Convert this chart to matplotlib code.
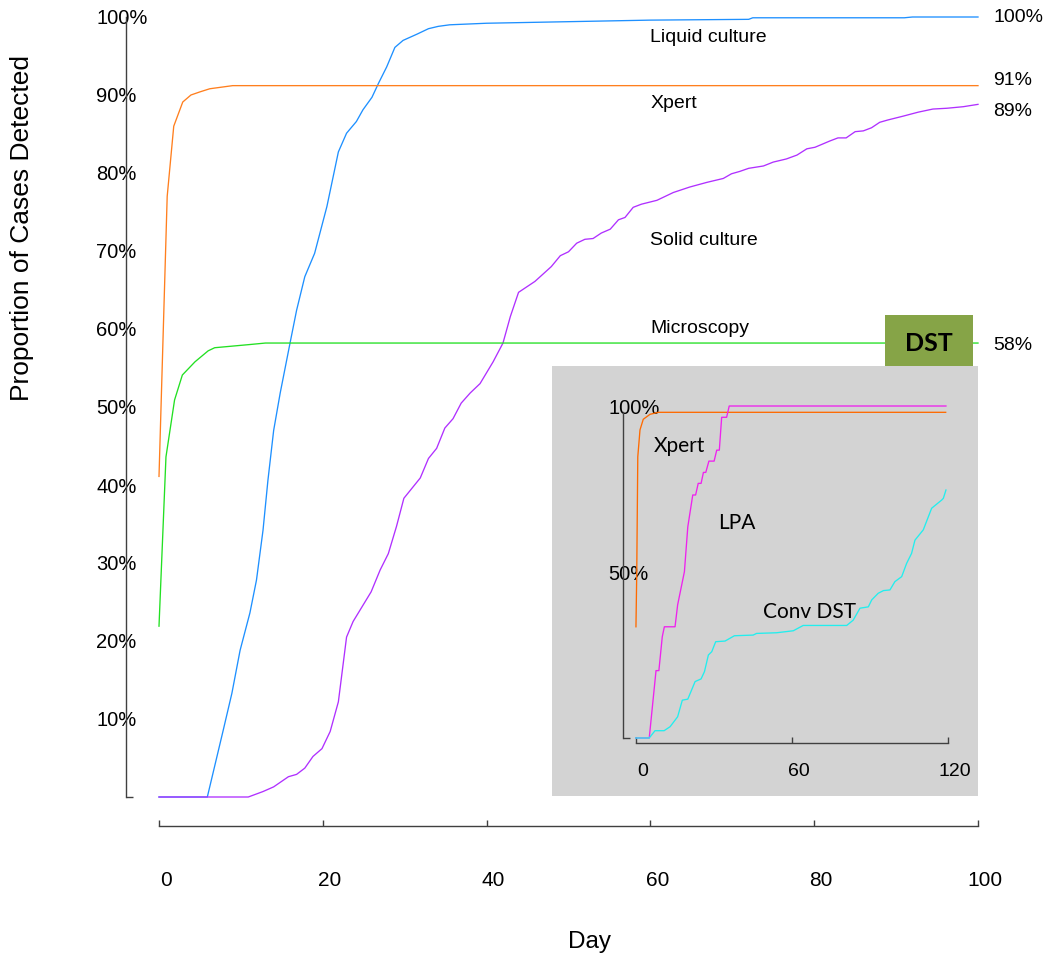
import matplotlib.pyplot as plt
import matplotlib.transforms as mtransforms
from matplotlib import font_manager
from matplotlib.patches import Rectangle

plt.rcParams['font.family'] = ['Liberation Sans', 'DejaVu Sans']
installed = {f.name for f in font_manager.fontManager.ttflist}
narrow = 'Liberation Sans Narrow' if 'Liberation Sans Narrow' in installed else 'Liberation Sans'
calib = 'Lato' if 'Lato' in installed else 'DejaVu Sans'

# main chart: (day, percent detected)
liquid_culture = [(0, 0), (5.9, 0), (7.85, 8.6), (8.9, 13.3), (9.9, 18.8), (11.1, 23.6), (11.9, 27.8),
                  (12.7, 34.2), (13.3, 40.6), (14, 47), (14.8, 51.8), (16, 58.2), (16.8, 62.4),
                  (17.8, 66.7), (19, 69.7), (20.5, 75.7), (21.9, 82.7), (22.9, 85.1), (24.1, 86.6),
                  (24.9, 88.1), (26, 89.7), (26.8, 91.5), (27.8, 93.6), (28.8, 96.1), (29.8, 97.0),
                  (31.5, 97.8), (32.9, 98.5), (34.1, 98.8), (35.5, 99.0), (40, 99.2), (50, 99.4),
                  (60, 99.6), (72, 99.7), (72.5, 99.9), (91, 99.9), (92, 100), (100, 100)]
xpert = [(0, 41.1), (1, 77), (1.8, 86), (2.9, 89.1), (3.9, 90), (5, 90.4), (6.2, 90.8),
         (9, 91.2), (100, 91.2)]
solid_culture = [(0, 0), (10.9, 0), (12.7, 0.7), (14, 1.3), (15.8, 2.6), (16.8, 2.9), (17.8, 3.7),
                 (18.8, 5.2), (19.9, 6.2), (20.9, 8.4), (21.9, 12.2), (22.9, 20.5), (23.7, 22.5),
                 (24.8, 24.4), (25.9, 26.3), (27, 29.1), (28, 31.2), (29, 34.7), (29.9, 38.3),
                 (30.9, 39.6), (31.9, 40.9), (32.9, 43.4), (33.9, 44.7), (34.9, 47.3), (35.9, 48.5),
                 (36.9, 50.5), (38, 51.8), (39.2, 53.0), (40.8, 55.8), (42, 58.2), (42.9, 61.6),
                 (43.9, 64.7), (45.9, 66.1), (47.9, 68.0), (49, 69.4), (50, 69.9), (51, 71.0),
                 (52, 71.5), (53, 71.6), (54, 72.3), (55.1, 72.8), (56.1, 74.0), (56.9, 74.3),
                 (57.9, 75.6), (58.9, 76.0), (60.8, 76.5), (62.8, 77.5), (64.8, 78.2), (66.9, 78.8),
                 (68.9, 79.3), (69.9, 79.9), (70.9, 80.2), (72, 80.6), (73.8, 80.9), (75, 81.4),
                 (76.6, 81.8), (77.9, 82.3), (79.1, 83.1), (80.1, 83.3), (81.9, 84.1), (82.9, 84.5),
                 (83.9, 84.5), (85, 85.3), (86, 85.4), (87, 85.8), (88, 86.5), (89, 86.8),
                 (90.9, 87.3), (92.7, 87.8), (94.5, 88.2), (96.2, 88.3), (98.2, 88.5), (100, 88.8)]
microscopy = [(0, 21.9), (0.85, 43.6), (1.9, 50.9), (2.85, 54.1), (4.4, 55.8), (6, 57.2),
              (6.8, 57.6), (11, 58.0), (13, 58.2), (100, 58.2)]

main_xticks = [0, 20, 40, 60, 80, 100]
main_yticks = [10, 20, 30, 40, 50, 60, 70, 80, 90, 100]
end_labels = [('100%', 100), ('91%', 91.9), ('89%', 87.9), ('58%', 57.9)]

# inset (DST): (day, percent)
inset_xpert = [(0.1, 33.5), (0.4, 49.6), (0.8, 84.7), (1.65, 92.8), (2.9, 96.0), (5.5, 97.5),
               (8.7, 98.1), (119, 98.1)]
lpa = [(0, 0), (5.2, 0), (7.8, 20.3), (8.9, 20.3), (10.2, 30.5), (11, 33.5), (15.1, 33.5),
       (16.1, 40.1), (18.7, 50.1), (20, 63.6), (21.9, 73.2), (23, 73.2), (24, 76.7), (25.1, 76.7),
       (26, 80.0), (26.9, 80.0), (28.1, 83.4), (30.1, 83.4), (31.1, 86.7), (32.1, 86.7),
       (33, 96.6), (34.9, 96.6), (35.9, 100), (119.1, 100)]
conv_dst = [(0, 0), (5.2, 0), (7.4, 2.2), (10.9, 2.2), (13.2, 3.4), (16.1, 6.4), (17.9, 11.4),
            (20, 11.7), (22.8, 17.0), (25.1, 17.8), (26.4, 20.0), (27.9, 25.0), (29.2, 26.0),
            (30.7, 29.0), (34.3, 29.2), (37.9, 30.8), (45.1, 31.0), (46.4, 31.5), (54.1, 31.7),
            (60.5, 32.3), (64.3, 33.9), (81, 33.9), (83.5, 35.5), (86.1, 39.1), (89.3, 39.5),
            (90.6, 41.6), (93.1, 43.6), (95.1, 44.4), (97.6, 44.6), (99.5, 47.1), (102.1, 48.6),
            (104, 52.6), (105.9, 55.6), (107.2, 59.6), (110.4, 62.7), (113.6, 69.2),
            (117.5, 71.7), (118.1, 72.2), (119.1, 74.7)]
inset_xticks = [0, 60, 120]
inset_yticks = [50, 100]

W, H = 1045, 958
fig = plt.figure(figsize=(W / 100, H / 100), dpi=100)


def px_box(x0, y0, x1, y1):
    return [x0 / W, 1 - y1 / H, (x1 - x0) / W, (y1 - y0) / H]


axis_col = '#404040'

# ---- main axes
ax = fig.add_axes(px_box(118.05, 1.4, 986.19, 832.1))
ax.set_xlim(-5, 101)
ax.set_ylim(-4.5, 102)
ax.set_facecolor('none')

for data, col in [(liquid_culture, '#1E90FF'), (xpert, '#FF7F1E'),
                  (solid_culture, '#B030FF'), (microscopy, '#22E022')]:
    xs, ys = zip(*data)
    ax.plot(xs, ys, color=col, lw=0.95, zorder=2)

for sp in ['top', 'right']:
    ax.spines[sp].set_visible(False)
ax.spines['left'].set_position(('data', -4))
ax.spines['left'].set_bounds(0, 100)
ax.spines['bottom'].set_position(('data', -3.78))
ax.spines['bottom'].set_bounds(0, 100)
for sp in ['left', 'bottom']:
    ax.spines[sp].set_color(axis_col)
    ax.spines[sp].set_linewidth(1)

ax.set_xticks(main_xticks)
ax.set_xticklabels([str(v) for v in main_xticks], family=[narrow, 'DejaVu Sans'])
ax.tick_params(axis='x', direction='in', length=4, width=1, color=axis_col,
               labelsize=15, pad=32)
shift = mtransforms.ScaledTranslation(0.07, 0, fig.dpi_scale_trans)
for lbl in ax.get_xticklabels():
    lbl.set_transform(lbl.get_transform() + shift)

ax.set_yticks(main_yticks)
ax.set_yticklabels([f'{v}%' for v in main_yticks])
ax.tick_params(axis='y', which='major', length=0, labelsize=14.5, pad=21.6)
for lbl in ax.get_yticklabels():
    lbl.set_horizontalalignment('left')
ax.set_yticks([0], minor=True)
ax.tick_params(axis='y', which='minor', direction='in', length=5, width=1, color=axis_col)

for txt, y in [('Liquid culture', 97.4), ('Xpert', 88.9), ('Solid culture', 71.3),
               ('Microscopy', 60.1)]:
    ax.text(60, y, txt, fontsize=14, va='center', ha='left')
for txt, y in end_labels:
    ax.text(101.9, y, txt, fontsize=14, va='center', ha='left', clip_on=False)

ax.add_patch(Rectangle((88.6, 55.1), 10.8, 6.7, facecolor='#86A447', edgecolor='none', zorder=4))
ax.text(94.0, 58.1, 'DST', fontsize=18, fontweight='bold', family=[calib, 'DejaVu Sans'],
        ha='center', va='center', zorder=5)

fig.text(22 / W, 1 - 228 / H, 'Proportion of Cases Detected', rotation=90, fontsize=19,
         ha='center', va='center')
fig.text(590 / W, 1 - 942 / H, 'Day', fontsize=17.5, ha='center', va='center')

# ---- inset
ax2 = fig.add_axes(px_box(552, 366, 978, 796))
ax2.set_facecolor('#D3D3D3')
ax2.set_xlim(-32.13, 131.4)
ax2.set_ylim(-17.47, 112.05)
for data, col in [(inset_xpert, '#FF6A00'), (lpa, '#EE22EE'), (conv_dst, '#22EEEE')]:
    xs, ys = zip(*data)
    ax2.plot(xs, ys, color=col, lw=0.95)

for sp in ['top', 'right']:
    ax2.spines[sp].set_visible(False)
ax2.spines['left'].set_position(('data', -4.76))
ax2.spines['left'].set_bounds(0, 98.3)
ax2.spines['bottom'].set_position(('data', -1.6))
ax2.spines['bottom'].set_bounds(0, 120)
for sp in ['left', 'bottom']:
    ax2.spines[sp].set_color(axis_col)
    ax2.spines[sp].set_linewidth(1)

ax2.set_xticks(inset_xticks)
ax2.set_xticklabels([str(v) for v in inset_xticks])
ax2.tick_params(axis='x', direction='in', length=4, width=1, color=axis_col,
                labelsize=14, pad=14)
shift2 = mtransforms.ScaledTranslation(0.07, 0, fig.dpi_scale_trans)
for lbl in ax2.get_xticklabels():
    lbl.set_transform(lbl.get_transform() + shift2)

ax2.set_yticks(inset_yticks)
ax2.set_yticklabels([f'{v}%' for v in inset_yticks])
ax2.tick_params(axis='y', which='major', length=0, labelsize=14.5, pad=11)
for lbl in ax2.get_yticklabels():
    lbl.set_horizontalalignment('left')
ax2.set_yticks([0], minor=True)
ax2.tick_params(axis='y', which='minor', direction='in', length=5, width=1, color=axis_col)

for txt, x, y in [('Xpert', 7.1, 88.0), ('LPA', 31.5, 64.7), ('Conv DST', 49, 37.9)]:
    ax2.text(x, y, txt, fontsize=15, family=[calib, 'DejaVu Sans'], va='center', ha='left')

fig.savefig('out.png', dpi=100)
